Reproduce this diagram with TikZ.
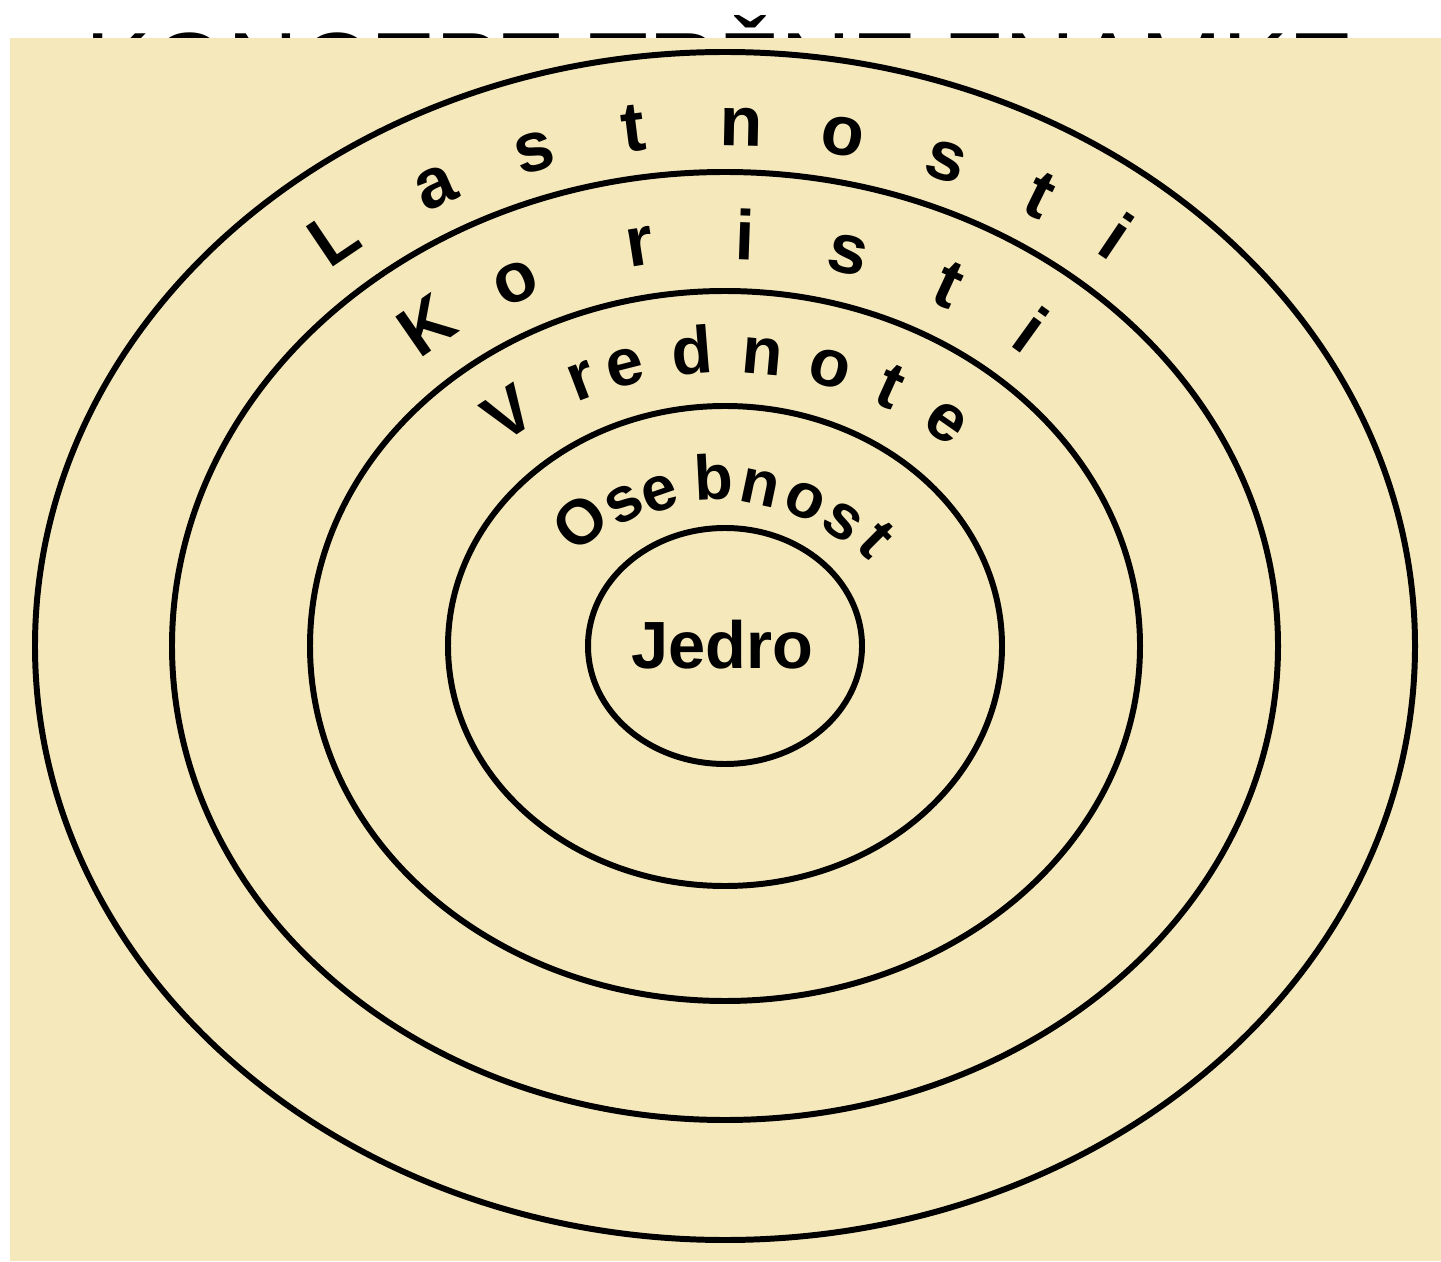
\documentclass[tikz,border=0pt]{standalone}
\usepackage{fontspec}
\setmainfont{Liberation Sans}
\usetikzlibrary{calc}

\begin{document}
\begin{tikzpicture}[
		x=0.2mm, y=0.2mm,
		plast/.style={line width=3.4pt},
		crka/.style={inner sep=0pt, anchor=base, font=\fontsize{#1}{#1}\selectfont\bfseries},
	]

		% Barve
		\definecolor{ozadje}{RGB}{245,233,188}

		\useasboundingbox (0,0) rectangle (1441,1261);

		% Naslov (zakrit z ozadjem)
		\node[anchor=base, font=\fontsize{56}{56}\selectfont] (naslov) at (720,1159) {KONCEPT TRŽNE ZNAMKE};

		% Ozadje
		\fill[ozadje] (10,0) rectangle (1441,1223);

		% Elipse (od zunaj navznoter)
		\coordinate (sredisce) at (725,615);
		\draw[plast] (sredisce) ellipse [x radius=690, y radius=594];
		\draw[plast] (sredisce) ellipse [x radius=553, y radius=474];
		\draw[plast] (sredisce) ellipse [x radius=415, y radius=355];
		\draw[plast] (sredisce) ellipse [x radius=277, y radius=240];
		\draw[plast] (sredisce) ellipse [x radius=137, y radius=118];

		% Napisi po loku
		\foreach \ch/\kot [count=\i] in {L/129, a/118, s/108, t/98.5, n/88.5, o/79, s/69, t/59.5, i/51}
			\node[crka=40, rotate={atan2(600*sin(\kot),500*cos(\kot))-90}] (lastnosti-\i)
				at ($(sredisce)+({600*cos(\kot)},{500*sin(\kot)})$) {\ch};

		\foreach \ch/\kot [count=\i] in {K/129, o/116.5, r/100.4, i/87.6, s/74.8, t/61.7, i/49.9}
			\node[crka=40, rotate={atan2(452*sin(\kot),387*cos(\kot))-90}] (koristi-\i)
				at ($(sredisce)+({452*cos(\kot)},{387*sin(\kot)})$) {\ch};

		\foreach \ch/\kot [count=\i] in {V/128.5, r/114.5, e/106.9, d/95.5, n/83.8, o/72.3, t/61.5, e/50}
			\node[crka=38, rotate={atan2(328*sin(\kot),273*cos(\kot))-90}] (vrednote-\i)
				at ($(sredisce)+({328*cos(\kot)},{273*sin(\kot)})$) {\ch};

		% Osebnost: vsaka crka posebej
		\foreach \ch/\x/\y/\r [count=\i] in {O/580/739/40, s/624/757/30, e/660/767/19, b/714/784/3,
				n/760/773/-12, o/805/760/-24, s/842/739/-35, t/876/721/-45}
			\node[crka=36, anchor=center, rotate=\r] (osebnost-\i) at (\x,\y) {\ch};

		% Jedro
		\node[font=\fontsize{38}{38}\selectfont\bfseries] (jedro) at (722,616) {Jedro};

	\end{tikzpicture}
\end{document}
